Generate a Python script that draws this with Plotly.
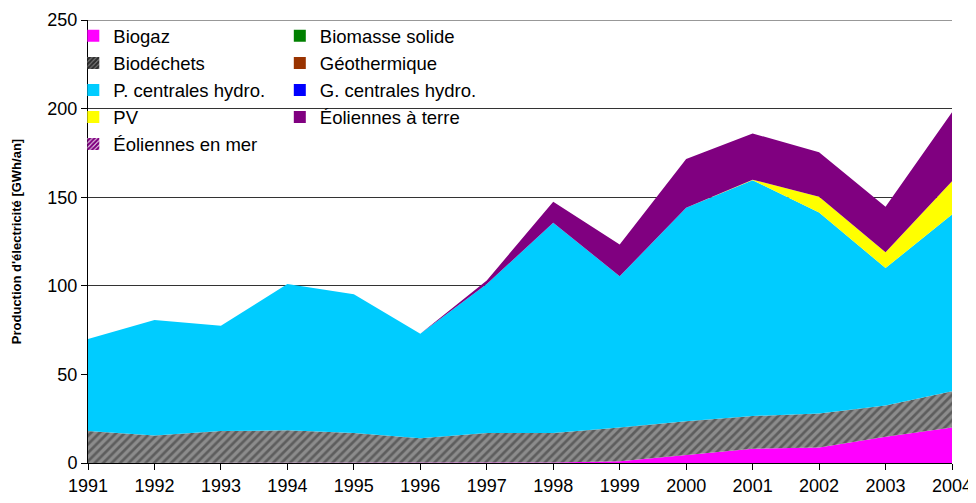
import plotly.graph_objects as go

years = list(range(1991, 2005))
biogaz = [0, 0, 0, 0, 0, 0, 0, 0.3, 1, 4.5, 8, 8.8, 14.8, 20]
biomasse_solide = [0] * 14
biodechets = [18, 15.5, 18, 18.5, 17, 14, 17, 16.7, 19, 19, 18.5, 19.2, 17.7, 20.5]
geothermique = [0] * 14
petites_hydro = [52, 65.2, 59.4, 82.5, 78.3, 58.9, 84, 118.6, 85.4, 120.5, 133.1, 113.4, 77.5, 99.8]
grandes_hydro = [0] * 14
pv = [0, 0, 0, 0, 0, 0, 0, 0, 0, 0, 0.3, 8.8, 9, 18.7]
eol_terre = [0, 0, 0, 0, 0, 0, 2, 11.8, 17.9, 27.5, 26.1, 25.2, 25.6, 38.9]
eol_mer = [0] * 14

FONT = "Liberation Sans, Arial, sans-serif"

series = [
    ("Biogaz", biogaz, "#FF00FF", None, "legend"),
    ("Biomasse solide", biomasse_solide, "#008000", None, "legend2"),
    ("Biodéchets", biodechets, "#808080", dict(shape="/", bgcolor="#8C8C8C", fgcolor="#2E2E2E", size=6, solidity=0.45), "legend"),
    ("Géothermique", geothermique, "#993300", None, "legend2"),
    ("P. centrales hydro.", petites_hydro, "#00CCFF", None, "legend"),
    ("G. centrales hydro.", grandes_hydro, "#0000FF", None, "legend2"),
    ("PV", pv, "#FFFF00", None, "legend"),
    ("Éoliennes à terre", eol_terre, "#800080", None, "legend2"),
    ("Éoliennes en mer", eol_mer, "#FFFFFF", dict(shape="/", bgcolor="#FFFFFF", fgcolor="#800080", size=5, solidity=0.6), "legend"),
]

fig = go.Figure()
for name, vals, color, pat, leg in series:
    kw = {}
    if pat:
        kw["fillpattern"] = pat
    fig.add_trace(go.Scatter(
        x=years, y=vals, name=name, stackgroup="one", mode="lines",
        line=dict(width=0, color=color), fillcolor=color, showlegend=False,
        hoverinfo="skip", **kw))

# legend entries (square symbols)
for i, (name, vals, color, pat, leg) in enumerate(series):
    marker = dict(color=color, line=dict(width=0))
    if pat:
        marker["pattern"] = dict(shape="/", bgcolor=pat["bgcolor"], fgcolor=pat["fgcolor"],
                                 fgopacity=1, size=4, solidity=0.75)
    fig.add_trace(go.Bar(x=[None], y=[None], name=name, marker=marker,
                         legend=leg, legendgroup=f"g{i}", showlegend=True))

legend_common = dict(
    font=dict(family=FONT, size=18.5, color="black"),
    bgcolor="rgba(0,0,0,0)", borderwidth=0, traceorder="grouped",
    tracegroupgap=0, yanchor="top", xanchor="left", itemclick=False,
)

fig.update_layout(
    width=968, height=495,
    margin=dict(l=80, r=24, t=9, b=40),
    paper_bgcolor="white", plot_bgcolor="white",
    font=dict(family=FONT, size=18, color="black"),
    showlegend=True,
    legend=dict(x=-0.017, y=1.006, **legend_common),
    legend2=dict(x=0.222, y=1.006, **legend_common),
    xaxis=dict(
        range=[1991, 2004], tickvals=years, ticktext=[str(y) for y in years],
        ticks="outside", ticklen=6, tickcolor="black", showline=True,
        linecolor="black", linewidth=1, showgrid=False, zeroline=False,
        tickfont=dict(family=FONT, size=18, color="black"), automargin=False,
    ),
    yaxis=dict(
        range=[0, 250], dtick=50, ticks="outside", ticklen=6, tickcolor="black",
        showline=True, linecolor="black", linewidth=1, showgrid=True,
        gridcolor="#333333", gridwidth=1, zeroline=False, automargin=False,
        tickfont=dict(family=FONT, size=18, color="black"),
        title=dict(text="<b>Production d'électricité [GWh/an]</b>",
                   font=dict(family=FONT, size=13, color="black"), standoff=22),
    ),
    shapes=[
        dict(type="line", xref="paper", yref="y", x0=0, x1=1, y0=250, y1=250,
             line=dict(color="#333333", width=1), layer="below"),
        # white legend background box (hides gridlines behind the legend)
        dict(type="rect", xref="paper", yref="paper", x0=0.001, x1=0.471, y0=0.668, y1=0.995,
             fillcolor="white", line=dict(width=0), layer="between"),
    ],
)

fig.write_html("out.html")
